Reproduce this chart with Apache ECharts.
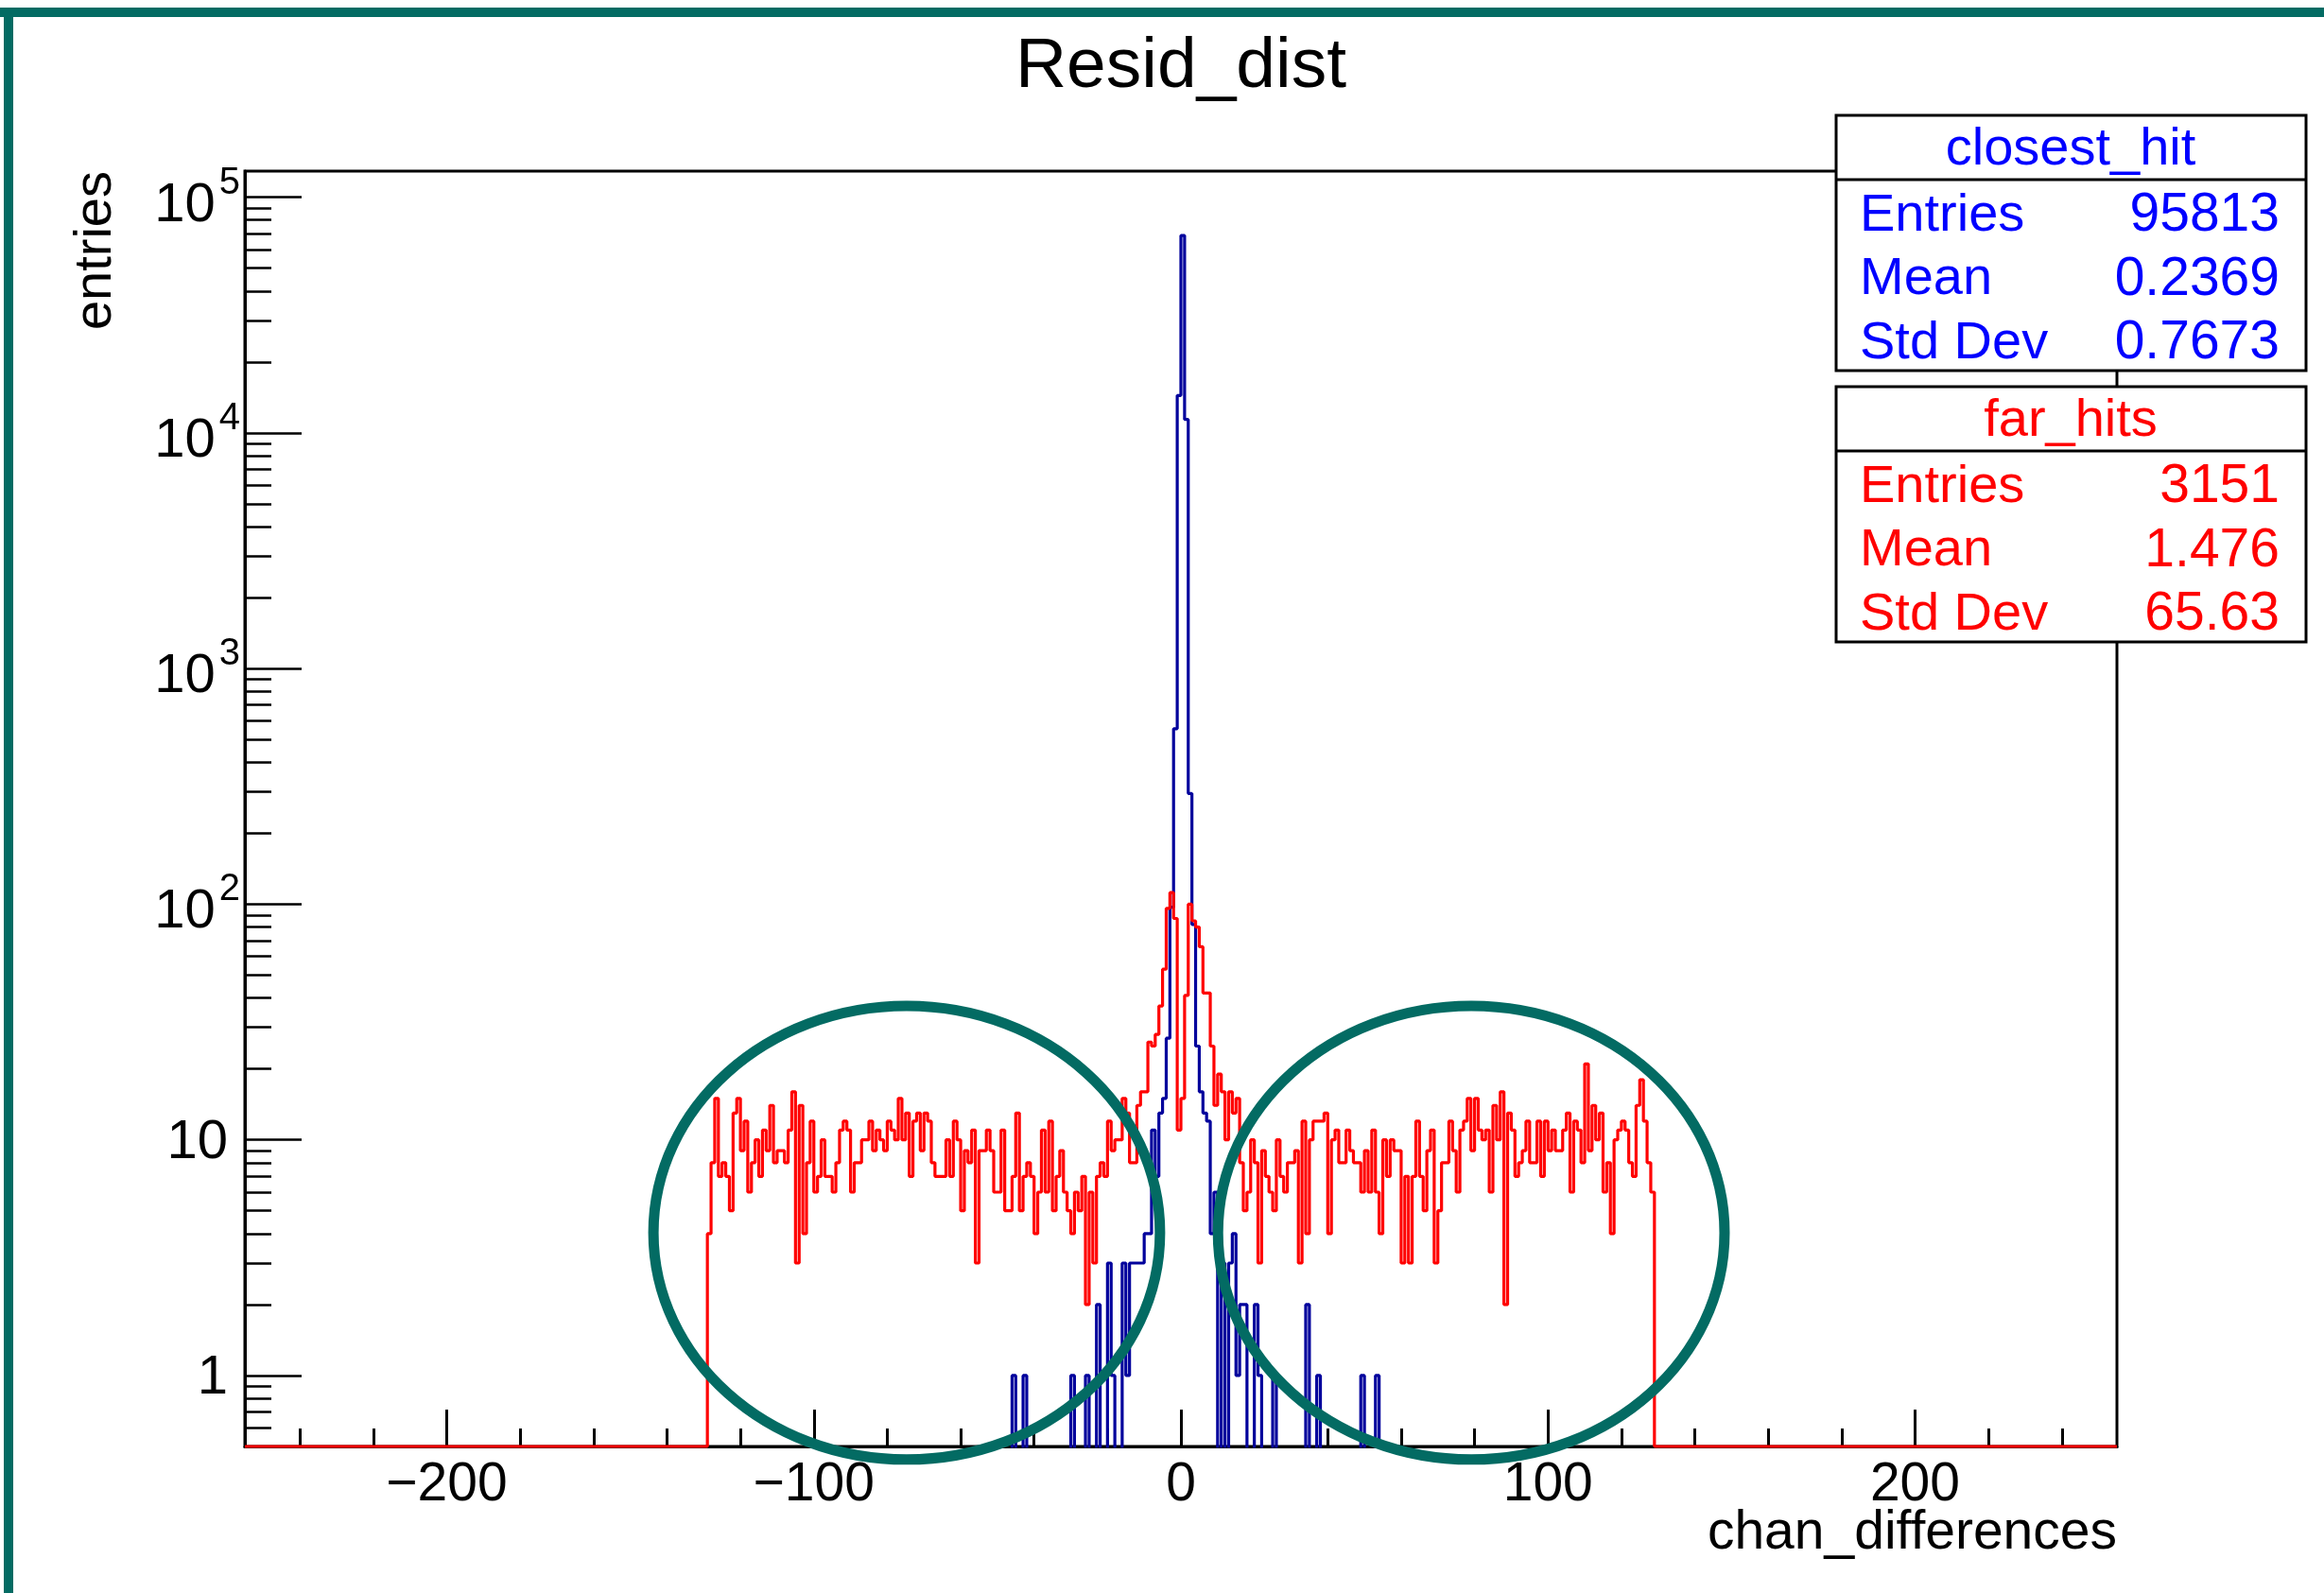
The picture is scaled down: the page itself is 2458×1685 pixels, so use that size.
<!DOCTYPE html>
<html><head><meta charset="utf-8">
<script src="https://cdn.jsdelivr.net/npm/echarts@6/dist/echarts.min.js"></script>
<style>html,body{margin:0;padding:0;background:#fff}#c{width:2458px;height:1685px}</style>
</head><body><div id="c"></div>
<script>
// ---------- data ----------
const xMin = -255, xMax = 255;
const yMin = 0.5, yMax = 129000;

const redFirstBin = -129;   // far_hits, 1-unit bins starting at -129
const redCounts = [
  4,8,15,7,8,7,5,13,15,9,
  12,6,8,10,7,11,9,14,8,9,
  9,8,11,16,3,14,4,8,12,6,
  7,10,7,7,6,8,11,12,11,6,
  8,8,10,10,12,9,11,10,9,12,
  11,10,15,10,13,7,12,13,9,13,
  12,8,7,7,7,10,7,12,10,5,
  9,8,11,3,9,9,11,9,6,6,
  11,5,5,7,13,5,7,8,7,4,
  6,11,6,12,5,7,9,6,5,4,
  6,5,7,2,6,3,7,8,7,12,
  9,10,10,15,13,8,8,14,16,16,
  26,25,28,37,53,96,112,87,11,15,
  41,100,85,80,66,42,42,25,14,19,
  16,10,16,13,15,8,5,6,10,8,
  3,9,7,6,5,10,7,6,8,8,
  9,3,12,4,10,12,12,12,13,4,
  10,11,8,8,11,9,8,8,6,9,
  6,11,6,4,10,7,10,9,9,3,
  7,3,7,12,7,5,9,11,3,5,
  8,8,12,9,6,11,12,15,9,15,
  11,10,11,6,14,10,16,2,13,11,
  7,8,9,12,8,8,12,7,12,9,
  11,9,9,11,13,6,12,11,8,21,
  9,14,10,13,6,8,4,10,11,12,
  11,8,7,14,18,12,8,6
];

const blueFirstBin = -46;   // closest_hit, 1-unit bins starting at -46
const blueCounts = [
  1,0,0,1,0,0,0,0,0,0,
  0,0,0,0,0,0,1,0,0,0,
  1,0,0,2,0,0,3,1,0,0,
  3,1,3,3,3,3,4,4,11,7,
  13,15,27,97,555,14400,68800,11400,295,82,
  25,16,13,12,4,6,0,3,0,3,
  4,1,2,2,0,0,2,1,0,0,
  0,1,0,0,0,0,0,0,0,0,
  2,0,0,1,0,0,0,0,0,0,
  0,0,0,0,0,1,0,0,0,1
];

const xMajorTicks = [-200, -100, 0, 100, 200];
const xMinorTicks = [-240,-220,-180,-160,-140,-120,-80,-60,-40,-20,20,40,60,80,120,140,160,180,220,240];
const yMajorTicks = [1, 10, 100, 1000, 10000, 100000];
const yMinorTicks = [0.6,0.7,0.8,0.9, 2,3,4,5,6,7,8,9, 20,30,40,50,60,70,80,90,
  200,300,400,500,600,700,800,900, 2000,3000,4000,5000,6000,7000,8000,9000,
  20000,30000,40000,50000,60000,70000,80000,90000];

const statLabels = ['Entries', 'Mean', 'Std Dev'];
const closestStats = ['95813', '0.2369', '0.7673'];
const farStats = ['3151', '1.476', '65.63'];

// annotation ellipses (data coordinates): centre x, half-width in x, low / high y
const ellipseCentersX = [-74.7, 79.1];
const ellipseHalfWidthX = 69;
const ellipseYLow = 0.44, ellipseYHigh = 37;

// ---------- build ----------
function histData(first, counts, zeroVal) {
  const d = [];
  for (let x = xMin; x < xMax; x++) {
    const i = x - first;
    const c = (i >= 0 && i < counts.length) ? counts[i] : 0;
    d.push([x, c > 0 ? c : zeroVal]);
  }
  d.push([xMax, d[d.length - 1][1]]);
  return d;
}

const FONT = 'Liberation Sans';
const chart = echarts.init(document.getElementById('c'), null, {renderer: 'canvas'});

chart.setOption({
  animation: false,
  backgroundColor: '#fff',
  grid: {left: 259, right: 219, top: 181, bottom: 155, show: true,
         borderColor: '#000', borderWidth: 3, backgroundColor: 'transparent'},
  xAxis: [
    {type: 'value', min: xMin, max: xMax, position: 'bottom',
     axisLine: {show: true, onZero: false, lineStyle: {color: '#000', width: 3}},
     axisTick: {show: true, inside: true, length: 39, customValues: xMajorTicks,
                lineStyle: {color: '#000', width: 3}},
     axisLabel: {show: true, customValues: xMajorTicks, margin: 13,
                 formatter: v => v < 0 ? '\u2212' + Math.abs(v) : String(v),
                 fontSize: 57, fontFamily: FONT, color: '#000'},
     splitLine: {show: false}},
    {type: 'value', min: xMin, max: xMax, position: 'bottom',
     axisLine: {show: false, onZero: false},
     axisTick: {show: true, inside: true, length: 19, customValues: xMinorTicks,
                lineStyle: {color: '#000', width: 3}},
     axisLabel: {show: false}, splitLine: {show: false}}
  ],
  yAxis: [
    {type: 'log', logBase: 10, min: yMin, max: yMax, position: 'left',
     axisLine: {show: true, onZero: false, lineStyle: {color: '#000', width: 3}},
     axisTick: {show: true, inside: true, length: 60, customValues: yMajorTicks,
                lineStyle: {color: '#000', width: 2.5}},
     axisLabel: {show: true, customValues: yMajorTicks, margin: 5,
                 fontSize: 58, fontFamily: FONT, color: '#000',
                 formatter: v => {
                   const e = Math.round(Math.log10(v));
                   if (e <= 1) return '{p|' + Math.round(v) + '}';
                   return '{b|10}{e|' + e + '}';
                 },
                 rich: {
                   p: {fontSize: 58, fontFamily: FONT, color: '#000', lineHeight: 58, padding: [6, 13, 0, 0]},
                   b: {fontSize: 58, fontFamily: FONT, color: '#000', lineHeight: 58, padding: [20, 0, 2, 0]},
                   e: {fontSize: 40, fontFamily: FONT, color: '#000', lineHeight: 40, padding: [5, 0, 35, 4]}
                 }},
     splitLine: {show: false}},
    {type: 'log', logBase: 10, min: yMin, max: yMax, position: 'left',
     axisLine: {show: false, onZero: false},
     axisTick: {show: true, inside: true, length: 28, customValues: yMinorTicks,
                lineStyle: {color: '#000', width: 2.5}},
     axisLabel: {show: false}, splitLine: {show: false}}
  ],
  series: [
    {name: 'closest_hit', type: 'line', step: 'end', xAxisIndex: 0, yAxisIndex: 0,
     data: histData(blueFirstBin, blueCounts, 0.3), showSymbol: false, symbol: 'none',
     clip: true, z: 3, lineStyle: {color: '#00009c', width: 3.2}},
    {name: 'far_hits', type: 'line', step: 'end', xAxisIndex: 0, yAxisIndex: 0,
     data: histData(redFirstBin, redCounts, yMin), showSymbol: false, symbol: 'none',
     clip: false, z: 4, lineStyle: {color: '#ff0000', width: 3.2}}
  ]
});

// ---------- annotations / texts ----------
const g = [];
const TEAL = '#036b63';
// canvas frame
g.push({type: 'rect', z: 50, shape: {x: 0, y: 8, width: 2458, height: 10}, style: {fill: TEAL}});
g.push({type: 'rect', z: 50, shape: {x: 4, y: 8, width: 10, height: 1677}, style: {fill: TEAL}});

function txt(x, y, text, size, color, align, extra) {
  return Object.assign({type: 'text', z: 120, x: x, y: y,
    style: {text: text, fontSize: size, fontFamily: FONT, fill: color,
            align: align, verticalAlign: 'middle', textAlign: align, textVerticalAlign: 'middle'}}, extra || {});
}
g.push(txt(1249, 71, 'Resid_dist', 75, '#000', 'center'));
g.push(txt(102, 181, 'entries', 56, '#000', 'right', {rotation: Math.PI / 2}));
g.push(txt(2239, 1622, 'chan_differences', 57, '#000', 'right'));

// ellipses (computed through the axes)
ellipseCentersX.forEach(cx => {
  const pL = chart.convertToPixel({xAxisIndex: 0, yAxisIndex: 0}, [cx - ellipseHalfWidthX, ellipseYLow]);
  const pR = chart.convertToPixel({xAxisIndex: 0, yAxisIndex: 0}, [cx + ellipseHalfWidthX, ellipseYHigh]);
  g.push({type: 'ellipse', z: 60,
    shape: {cx: (pL[0] + pR[0]) / 2, cy: (pL[1] + pR[1]) / 2,
            rx: Math.abs(pR[0] - pL[0]) / 2, ry: Math.abs(pL[1] - pR[1]) / 2},
    style: {fill: 'none', stroke: TEAL, lineWidth: 11}});
});

// stats boxes
function statBox(top, sep, bottom, title, vals, color) {
  g.push({type: 'rect', z: 110, shape: {x: 1942, y: top, width: 497, height: bottom - top},
          style: {fill: '#fff', stroke: '#000', lineWidth: 3}});
  g.push({type: 'line', z: 111, shape: {x1: 1942, y1: sep, x2: 2439, y2: sep},
          style: {stroke: '#000', lineWidth: 3}});
  g.push(txt(2190, (top + sep) / 2 + 3, title, 56, color, 'center'));
  const rowH = (bottom - sep) / 3;
  statLabels.forEach((lab, i) => {
    const y = sep + rowH * (i + 0.5) + 5;
    g.push(txt(1967, y, lab, 56, color, 'left'));
    g.push(txt(2411, y, vals[i], 57, color, 'right'));
  });
}
statBox(122, 190, 392, 'closest_hit', closestStats, '#0000ff');
statBox(409, 477, 679, 'far_hits', farStats, '#ff0000');

chart.setOption({graphic: {elements: g}});
</script>
</body></html>
